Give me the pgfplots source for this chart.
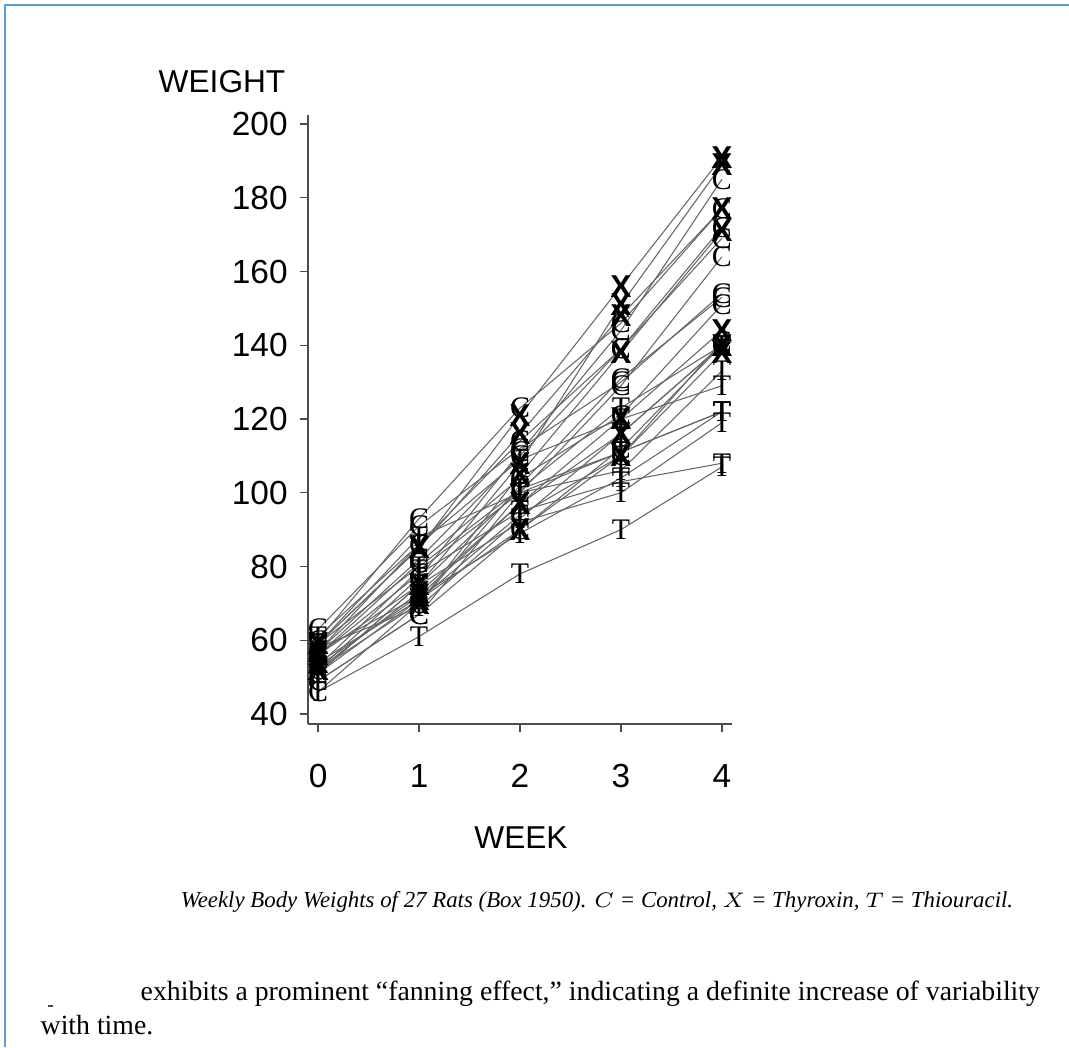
\documentclass[border=0pt]{standalone}
\usepackage{pgfplots}
\pgfplotsset{compat=1.18}
\usepackage{fontspec}
\setmainfont{Liberation Serif}
\newfontfamily\helv{Liberation Sans}
\definecolor{frameblue}{RGB}{91,155,213}
\begin{document}
\begin{tikzpicture}
\useasboundingbox (0,0) rectangle (10.69cm,-10.47cm);
\fill[white] (0,0) rectangle (10.69cm,-10.47cm);
\draw[frameblue, line width=0.2mm] (0.05cm,-10.47cm) -- (0.05cm,-0.05cm) -- (10.69cm,-0.05cm);
\begin{axis}[
  scale only axis,
  width=4.24cm, height=6.09cm,
  at={(3.08cm,-7.24cm)}, anchor=south west,
  xmin=-0.1, xmax=4.1, ymin=37.29, ymax=202.44,
  axis x line=bottom, axis y line=left,
  axis line style={-, line width=0.35pt, black!70},
  xtick={0,1,2,3,4}, ytick={40,60,...,200},
  tick align=outside, major tick length=0.8mm,
  tick style={black!70, line width=0.35pt},
  /pgf/number format/assume math mode=true,
  ticklabel style={font=\helv\fontsize{9.5}{11}\selectfont},
  xticklabel style={yshift=-2.0mm},
  clip=false,
  every axis plot/.append style={line width=0.3pt, draw=black!60},
  ctl/.style={mark=text, text mark={C}, text mark as node=true,
     text mark style={font=\fontsize{8.5}{9}\selectfont, text=black, inner sep=0pt}},
  thy/.style={mark=text, text mark={X}, text mark as node=true,
     text mark style={font=\helv\bfseries\fontsize{9}{9}\selectfont, text=black, inner sep=0pt}},
  thi/.style={mark=text, text mark={T}, text mark as node=true,
     text mark style={font=\fontsize{8.5}{9}\selectfont, text=black, inner sep=0pt}},
]
% Control
\addplot[ctl] coordinates {(0,57)(1,86)(2,114)(3,139)(4,172)};
\addplot[ctl] coordinates {(0,60)(1,93)(2,123)(3,146)(4,177)};
\addplot[ctl] coordinates {(0,52)(1,77)(2,111)(3,144)(4,185)};
\addplot[ctl] coordinates {(0,49)(1,67)(2,100)(3,129)(4,164)};
\addplot[ctl] coordinates {(0,56)(1,81)(2,104)(3,121)(4,151)};
\addplot[ctl] coordinates {(0,46)(1,70)(2,102)(3,131)(4,153)};
\addplot[ctl] coordinates {(0,51)(1,71)(2,94)(3,110)(4,141)};
\addplot[ctl] coordinates {(0,63)(1,91)(2,112)(3,130)(4,154)};
\addplot[ctl] coordinates {(0,49)(1,67)(2,90)(3,112)(4,140)};
\addplot[ctl] coordinates {(0,57)(1,82)(2,110)(3,139)(4,169)};
% Thyroxin
\addplot[thy] coordinates {(0,59)(1,85)(2,121)(3,156)(4,191)};
\addplot[thy] coordinates {(0,54)(1,71)(2,90)(3,110)(4,138)};
\addplot[thy] coordinates {(0,56)(1,75)(2,108)(3,151)(4,189)};
\addplot[thy] coordinates {(0,59)(1,85)(2,116)(3,148)(4,177)};
\addplot[thy] coordinates {(0,57)(1,72)(2,97)(3,120)(4,144)};
\addplot[thy] coordinates {(0,52)(1,73)(2,97)(3,116)(4,140)};
\addplot[thy] coordinates {(0,52)(1,70)(2,105)(3,138)(4,171)};
% Thiouracil
\addplot[thi] coordinates {(0,61)(1,86)(2,109)(3,120)(4,129)};
\addplot[thi] coordinates {(0,59)(1,80)(2,101)(3,111)(4,122)};
\addplot[thi] coordinates {(0,53)(1,79)(2,100)(3,106)(4,133)};
\addplot[thi] coordinates {(0,59)(1,88)(2,100)(3,111)(4,122)};
\addplot[thi] coordinates {(0,51)(1,75)(2,101)(3,123)(4,140)};
\addplot[thi] coordinates {(0,51)(1,75)(2,92)(3,100)(4,119)};
\addplot[thi] coordinates {(0,56)(1,78)(2,95)(3,103)(4,108)};
\addplot[thi] coordinates {(0,58)(1,69)(2,93)(3,116)(4,140)};
\addplot[thi] coordinates {(0,46)(1,61)(2,78)(3,90)(4,107)};
\addplot[thi] coordinates {(0,53)(1,72)(2,89)(3,104)(4,122)};
\end{axis}
\node[font=\helv\fontsize{9}{11}\selectfont] at (2.22cm,-0.82cm) {WEIGHT};
\node[font=\helv\fontsize{9}{11}\selectfont] at (5.21cm,-8.38cm) {WEEK};
\node[font=\itshape\fontsize{6.5}{8}\selectfont] at (5.97cm,-9.02cm) {Weekly Body Weights of 27 Rats (Box 1950). $C$ = Control, $X$ = Thyroxin, $T$ = Thiouracil.};
\node[font=\fontsize{7.9}{10}\selectfont, anchor=base west, inner sep=0pt] at (1.40cm,-10.00cm) {exhibits a prominent “fanning effect,” indicating a definite increase of variability};
\node[font=\fontsize{7.9}{10}\selectfont, anchor=base west, inner sep=0pt] at (0.40cm,-10.34cm) {with time.};
\draw[black!70, line width=0.2mm] (0.48cm,-10.06cm) -- (0.53cm,-10.06cm);
\end{tikzpicture}
\end{document}
